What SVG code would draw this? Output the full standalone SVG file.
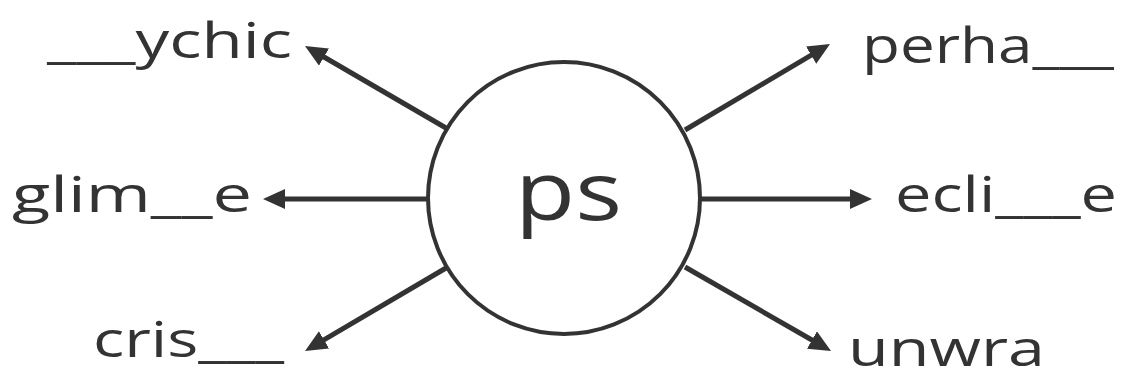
<svg xmlns="http://www.w3.org/2000/svg" width="1121" height="381" viewBox="0 0 1121 381">
<style>
.lbl{font-family:"Open Sans","Noto Sans",sans-serif;font-size:50px;fill:#333}
.conn line{stroke:#333;stroke-width:5;marker-end:url(#ah)}
</style>
<defs>
<marker id="ah" markerUnits="userSpaceOnUse" markerWidth="24" markerHeight="22" refX="8" refY="10" orient="auto">
<path d="M0,0 L22,10 L0,20 z" fill="#333"/>
</marker>
</defs>
<rect width="1121" height="381" fill="#fff"/>
<g id="connectors" class="conn">
<line x1="446" y1="128" x2="317.1" y2="53"/>
<line x1="685" y1="130" x2="818" y2="51.1"/>
<line x1="428" y1="199" x2="277" y2="199"/>
<line x1="700" y1="199" x2="858" y2="199"/>
<line x1="446" y1="268" x2="317.1" y2="343.9"/>
<line x1="685" y1="267" x2="818.9" y2="344"/>
</g>
<g id="center">
<circle cx="564" cy="198" r="136" fill="#fff" stroke="#333" stroke-width="4"/>
<text x="515" y="220" font-family="Open Sans, Noto Sans, sans-serif" font-size="80" fill="#333" textLength="107" lengthAdjust="spacingAndGlyphs">ps</text>
</g>
<g id="n-ychic"><text class="lbl" x="47" y="58" textLength="245" lengthAdjust="spacingAndGlyphs">___ychic</text></g>
<g id="n-perha"><text class="lbl" x="862" y="63" textLength="252" lengthAdjust="spacingAndGlyphs">perha___</text></g>
<g id="n-glim"><text class="lbl" x="12" y="212" textLength="240" lengthAdjust="spacingAndGlyphs">glim__e</text></g>
<g id="n-ecli"><text class="lbl" x="895" y="212" textLength="222" lengthAdjust="spacingAndGlyphs">ecli___e</text></g>
<g id="n-cris"><text class="lbl" x="93" y="357" textLength="191" lengthAdjust="spacingAndGlyphs">cris___</text></g>
<g id="n-unwra"><text class="lbl" x="848" y="366" font-size="46" textLength="197" lengthAdjust="spacingAndGlyphs">unwra</text></g>
</svg>
